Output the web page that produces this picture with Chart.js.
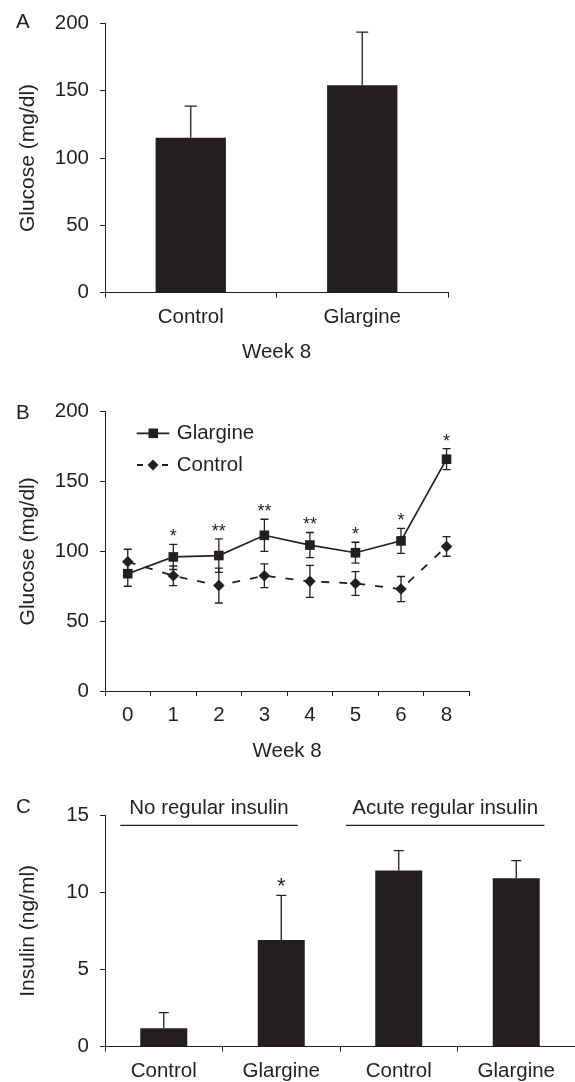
<!DOCTYPE html>
<html>
<head>
<meta charset="utf-8">
<title>Glucose and insulin - glargine vs control</title>
<script src="https://cdn.jsdelivr.net/npm/chart.js@4/dist/chart.umd.min.js"></script>
<style>
  body { margin: 0; background: #fff; width: 575px; height: 1082px; position: relative; overflow: hidden; }
  canvas { position: absolute; left: 0; }
</style>
</head>
<body>
<canvas id="chartA" width="575" height="380" style="top:0"></canvas>
<canvas id="chartB" width="575" height="390" style="top:380px"></canvas>
<canvas id="chartC" width="575" height="312" style="top:770px"></canvas>
<script>
// ---------- Panel A: glucose at week 8 ----------
const groupsA = ['Control', 'Glargine'];
const glucoseA = [115, 154];
const glucoseErrA = [23.5, 39.5];

// ---------- Panel B: glucose over the weeks ----------
const weeksB = ['0', '1', '2', '3', '4', '5', '6', '8'];
const glargineB = [84, 96, 97, 111.5, 104.5, 99, 107.5, 166];
const glargineErrB = [9, 9, 12, 11.5, 9, 7.5, 9, 7.5];
const controlB = [92.5, 82.5, 75.5, 82.5, 78.5, 77, 73, 103.5];
const controlErrB = [9, 7, 12.5, 8.5, 11.5, 8.5, 9, 7];
const starsB = ['', '*', '**', '**', '**', '*', '*', '*'];

// ---------- Panel C: insulin ----------
const groupsC = ['Control', 'Glargine', 'Control', 'Glargine'];
const insulinC = [1.2, 6.9, 11.4, 10.9];
const insulinErrC = [1.0, 2.9, 1.3, 1.15];
const starsC = ['', '*', '', ''];
const bracketsC = [
  { text: 'No regular insulin', from: -0.37, to: 1.14 },
  { text: 'Acute regular insulin', from: 1.55, to: 3.24 }
];

// ---------- Shared look ----------
const FONT = '"Liberation Sans", Arial, Helvetica, sans-serif';
const INK = '#231f20';
Chart.defaults.font.family = FONT;
Chart.defaults.color = INK;
Chart.defaults.animation = false;
Chart.defaults.plugins.legend.display = false;
Chart.defaults.plugins.tooltip.enabled = false;

function xAxis(height, title, titleBottom) {
  return {
    type: 'category',
    offset: true,
    grid: { display: true, drawOnChartArea: false, drawTicks: true, tickLength: 5, color: INK, offset: true },
    border: { display: true, color: INK, width: 1 },
    ticks: { font: { size: 20.5 }, color: INK, padding: 7, maxRotation: 0, autoSkip: false },
    title: title
      ? { display: true, text: title, font: { size: 20.5 }, color: INK, padding: { top: 0, bottom: titleBottom } }
      : { display: false },
    afterFit: s => { s.height = height; }
  };
}

function yAxis(max, step, title) {
  return {
    min: 0,
    max: max,
    ticks: { stepSize: step, font: { size: 20.5 }, color: INK, padding: 11 },
    grid: { display: true, drawOnChartArea: false, drawTicks: true, tickLength: 5, color: INK },
    border: { display: true, color: INK, width: 1 },
    title: { display: true, text: title, font: { size: 21 }, color: INK, padding: { top: 16, bottom: 0 } },
    afterFit: s => { s.width = 105; }
  };
}

// error bars (one or two sided)
function drawErrors(chart, sets, twoSided, cap) {
  const ctx = chart.ctx, y = chart.scales.y;
  ctx.save();
  ctx.strokeStyle = INK;
  ctx.lineWidth = 1.3;
  sets.forEach(s => {
    const meta = chart.getDatasetMeta(s.dataset);
    const vals = chart.data.datasets[s.dataset].data;
    meta.data.forEach((el, i) => {
      const v = vals[i], e = s.err[i];
      const x = el.x;
      const top = y.getPixelForValue(v + e);
      const bot = y.getPixelForValue(twoSided ? v - e : v);
      ctx.beginPath();
      ctx.moveTo(x, bot); ctx.lineTo(x, top);
      ctx.moveTo(x - cap / 2, top); ctx.lineTo(x + cap / 2, top);
      if (twoSided) { ctx.moveTo(x - cap / 2, bot); ctx.lineTo(x + cap / 2, bot); }
      ctx.stroke();
    });
  });
  ctx.restore();
}

function drawStars(chart, datasetIndex, err, stars, size) {
  const ctx = chart.ctx, y = chart.scales.y;
  const meta = chart.getDatasetMeta(datasetIndex);
  const vals = chart.data.datasets[datasetIndex].data;
  ctx.save();
  ctx.fillStyle = INK;
  ctx.font = size + 'px ' + FONT;
  ctx.textAlign = 'center';
  ctx.textBaseline = 'alphabetic';
  meta.data.forEach((el, i) => {
    if (!stars[i]) return;
    ctx.fillText(stars[i], el.x, y.getPixelForValue(vals[i] + err[i]) - 2);
  });
  ctx.restore();
}

function panelLetter(chart, letter, y) {
  const ctx = chart.ctx;
  ctx.save();
  ctx.fillStyle = INK;
  ctx.font = '20.5px ' + FONT;
  ctx.textAlign = 'left';
  ctx.textBaseline = 'middle';
  ctx.fillText(letter, 16, y);
  ctx.restore();
}

// ---------- Panel A ----------
new Chart(document.getElementById('chartA'), {
  type: 'bar',
  data: {
    labels: groupsA,
    datasets: [{ data: glucoseA, backgroundColor: INK, borderWidth: 0, barPercentage: 0.41, categoryPercentage: 1 }]
  },
  options: {
    responsive: false,
    layout: { padding: { top: 21.7, right: 127, left: 0, bottom: 0 } },
    scales: { x: xAxis(87.3, 'Week 8', 15), y: yAxis(200, 50, 'Glucose (mg/dl)') }
  },
  plugins: [{
    id: 'extrasA',
    afterDatasetsDraw(chart) { drawErrors(chart, [{ dataset: 0, err: glucoseErrA }], false, 12); },
    afterDraw(chart) { panelLetter(chart, 'A', 22.7); }
  }]
});

// ---------- Panel B ----------
new Chart(document.getElementById('chartB'), {
  type: 'line',
  data: {
    labels: weeksB,
    datasets: [
      {
        label: 'Glargine', data: glargineB, borderColor: INK, backgroundColor: INK, borderWidth: 1.7,
        pointStyle: 'rect', pointRadius: 6.8, pointBorderWidth: 0, pointBackgroundColor: INK, tension: 0, clip: false
      },
      {
        label: 'Control', data: controlB, borderColor: INK, backgroundColor: INK, borderWidth: 1.8, borderDash: [8, 10],
        pointStyle: 'rectRot', pointRadius: 5.8, pointBorderWidth: 0, pointBackgroundColor: INK, tension: 0, clip: false
      }
    ]
  },
  options: {
    responsive: false,
    layout: { padding: { top: 31.7, right: 105.7, left: 0, bottom: 0 } },
    scales: { x: xAxis(79, 'Week 8', 6.5), y: yAxis(200, 50, 'Glucose (mg/dl)') }
  },
  plugins: [{
    id: 'extrasB',
    beforeDatasetsDraw(chart) {
      drawErrors(chart, [{ dataset: 0, err: glargineErrB }, { dataset: 1, err: controlErrB }], true, 8);
    },
    afterDatasetsDraw(chart) { drawStars(chart, 0, glargineErrB, starsB, 18); },
    afterDraw(chart) {
      panelLetter(chart, 'B', 33);
      // legend: line sample with marker, then label
      const ctx = chart.ctx, L = chart.chartArea.left;
      ctx.save();
      ctx.strokeStyle = INK; ctx.fillStyle = INK; ctx.lineWidth = 1.8;
      // Glargine row
      let ry = 53.3;
      ctx.beginPath(); ctx.moveTo(L + 31.7, ry); ctx.lineTo(L + 64.3, ry); ctx.stroke();
      ctx.fillRect(L + 48.3 - 4.8, ry - 4.8, 9.6, 9.6);
      // Control row
      ry = 85;
      ctx.beginPath();
      ctx.moveTo(L + 32, ry); ctx.lineTo(L + 38, ry);
      ctx.moveTo(L + 57, ry); ctx.lineTo(L + 63, ry);
      ctx.stroke();
      ctx.beginPath();
      ctx.moveTo(L + 48, ry - 5.5); ctx.lineTo(L + 53.5, ry); ctx.lineTo(L + 48, ry + 5.5); ctx.lineTo(L + 42.5, ry);
      ctx.closePath(); ctx.fill();
      ctx.font = '20.5px ' + FONT;
      ctx.textAlign = 'left'; ctx.textBaseline = 'middle';
      ctx.fillText('Glargine', L + 71.7, 53.3);
      ctx.fillText('Control', L + 71.7, 85);
      ctx.restore();
    }
  }]
});

// ---------- Panel C ----------
new Chart(document.getElementById('chartC'), {
  type: 'bar',
  data: {
    labels: groupsC,
    datasets: [{ data: insulinC, backgroundColor: INK, borderWidth: 0, barPercentage: 0.4, categoryPercentage: 1 }]
  },
  options: {
    responsive: false,
    layout: { padding: { top: 45, right: 0, left: 0, bottom: 0 } },
    scales: { x: xAxis(35.3, null, 0), y: yAxis(15, 5, 'Insulin (ng/ml)') }
  },
  plugins: [{
    id: 'extrasC',
    afterDatasetsDraw(chart) {
      drawErrors(chart, [{ dataset: 0, err: insulinErrC }], false, 10);
      drawStars(chart, 0, insulinErrC, starsC, 22);
    },
    afterDraw(chart) {
      panelLetter(chart, 'C', 37);
      const ctx = chart.ctx, x = chart.scales.x;
      ctx.save();
      ctx.strokeStyle = INK; ctx.fillStyle = INK; ctx.lineWidth = 1.3;
      ctx.font = '20.5px ' + FONT;
      ctx.textAlign = 'center'; ctx.textBaseline = 'middle';
      bracketsC.forEach(b => {
        const x0 = x.getPixelForValue(b.from), x1 = x.getPixelForValue(b.to);
        ctx.beginPath(); ctx.moveTo(x0, 55.3); ctx.lineTo(x1, 55.3); ctx.stroke();
        ctx.fillText(b.text, (x0 + x1) / 2, 38);
      });
      ctx.restore();
    }
  }]
});
</script>
</body>
</html>
